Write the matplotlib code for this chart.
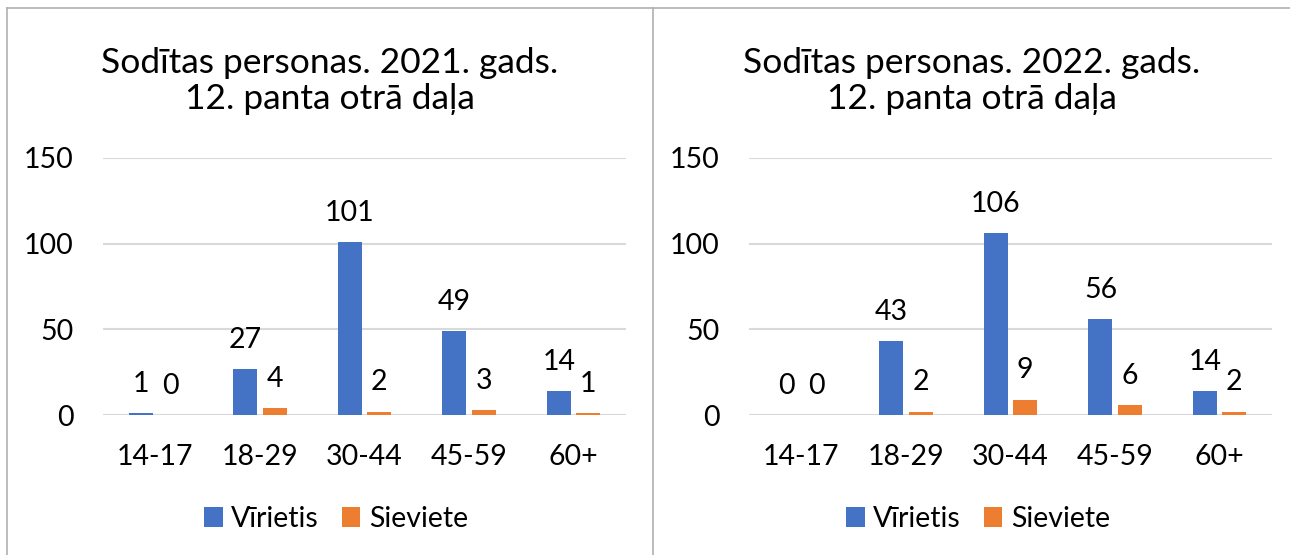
import numpy as np
import matplotlib.pyplot as plt
from matplotlib.lines import Line2D

plt.rcParams['font.family'] = ['Lato', 'DejaVu Sans']

# dati
vecuma_grupas = ['14-17', '18-29', '30-44', '45-59', '60+']
virietis_2021 = [1, 27, 101, 49, 14]
sieviete_2021 = [0, 4, 2, 3, 1]
virietis_2022 = [0, 43, 106, 56, 14]
sieviete_2022 = [0, 2, 9, 6, 2]
virsraksti = ['Sodītas personas. 2021. gads.\n12. panta otrā daļa',
              'Sodītas personas. 2022. gads.\n12. panta otrā daļa']
y_ticks = [0, 50, 100, 150]

zila = '#4472C4'
oranza = '#ED7D31'
W, H = 1290, 555

fig = plt.figure(figsize=(W / 100, H / 100), dpi=100)


def zimet(x_left, panel_center, virietis, sieviete, virsraksts):
    ax = fig.add_axes([x_left / W, (H - 415) / H, 523 / W, 257 / H])
    x = np.arange(len(vecuma_grupas))
    bw = 0.23
    off = 0.14
    ax.bar(x - off, virietis, bw, color=zila, label='Vīrietis', zorder=3)
    ax.bar(x + off, sieviete, bw, color=oranza, label='Sieviete', zorder=3)
    for xi, v in zip(x - off, virietis):
        ax.annotate(str(v), (xi, v), xytext=(0, 21), textcoords='offset points',
                    ha='center', va='center', fontsize=20.5)
    for xi, v in zip(x + off, sieviete):
        ax.annotate(str(v), (xi, v), xytext=(0, 21), textcoords='offset points',
                    ha='center', va='center', fontsize=20.5)
    ax.set_xlim(-0.5, len(vecuma_grupas) - 0.5)
    ax.set_ylim(0, 150)
    ax.set_yticks(y_ticks)
    ax.set_xticks(x)
    ax.set_xticklabels(vecuma_grupas)
    ax.tick_params(axis='both', length=0, labelsize=20.5)
    ax.tick_params(axis='y', pad=21)
    ax.tick_params(axis='x', pad=21)
    ax.grid(axis='y', color='#D9D9D9', linewidth=1.5, zorder=0)
    for s in ax.spines.values():
        s.set_visible(False)
    fig.text(panel_center / W, 1 - 81 / H, virsraksts, ha='center', va='center',
             fontsize=25.5, linespacing=1.18)
    h, l = ax.get_legend_handles_labels()
    fig.legend(h, l, loc='center', bbox_to_anchor=((panel_center + 6) / W, 1 - 519 / H),
               ncol=2, frameon=False, fontsize=20.5, handlelength=0.65, handleheight=0.65,
               handletextpad=0.3, columnspacing=0.8)
    return ax


zimet(103, 330, virietis_2021, sieviete_2021, virsraksti[0])
zimet(749, 972, virietis_2022, sieviete_2022, virsraksti[1])

# tabulas rāmis
fig.add_artist(Line2D([7 / W, 1], [1 - 8 / H, 1 - 8 / H], color='#B0B0B0', lw=1.2))
fig.add_artist(Line2D([7 / W, 7 / W], [0, 1 - 8 / H], color='#B0B0B0', lw=1.2))
fig.add_artist(Line2D([653 / W, 653 / W], [0, 1 - 8 / H], color='#B0B0B0', lw=1.2))

fig.savefig('out.png', dpi=100)
